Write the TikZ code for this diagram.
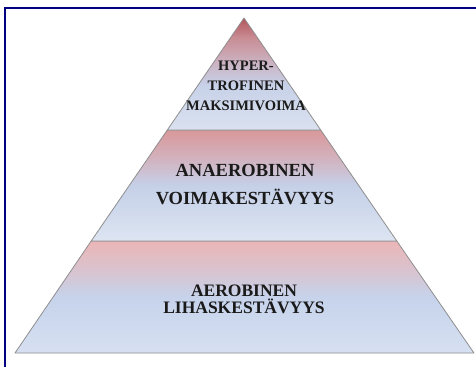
\documentclass[tikz,border=0pt]{standalone}
\usepackage{fontspec}
\setmainfont{Liberation Serif}
\usetikzlibrary{positioning}

\definecolor{kehys}{HTML}{000080}
\definecolor{reuna}{HTML}{8E8E8E}
\definecolor{teksti}{HTML}{1A1A1A}

\pgfdeclareverticalshading{huippu}{100bp}{%
  color(0bp)=(rgb,255:red,218;green,226;blue,240); color(25bp)=(rgb,255:red,218;green,226;blue,240);
  color(45bp)=(rgb,255:red,199;green,209;blue,232); color(55bp)=(rgb,255:red,203;green,179;blue,195);
  color(66bp)=(rgb,255:red,201;green,142;blue,149); color(75bp)=(rgb,255:red,179;green,85;blue,92);
  color(100bp)=(rgb,255:red,179;green,85;blue,92)}
\pgfdeclareverticalshading{keski}{100bp}{%
  color(0bp)=(rgb,255:red,221;green,229;blue,242); color(25bp)=(rgb,255:red,221;green,229;blue,242);
  color(50bp)=(rgb,255:red,197;green,208;blue,232); color(62bp)=(rgb,255:red,210;green,179;blue,191);
  color(75bp)=(rgb,255:red,217;green,152;blue,154); color(100bp)=(rgb,255:red,217;green,152;blue,154)}
\pgfdeclareverticalshading{pohja}{100bp}{%
  color(0bp)=(rgb,255:red,214;green,224;blue,241); color(25bp)=(rgb,255:red,214;green,224;blue,241);
  color(50bp)=(rgb,255:red,198;green,211;blue,235); color(62bp)=(rgb,255:red,217;green,195;blue,207);
  color(75bp)=(rgb,255:red,235;green,182;blue,182); color(100bp)=(rgb,255:red,235;green,182;blue,182)}

\tikzset{
  kerros/.style={draw=reuna, line width=0.8pt, line join=round},
  nimi/.style={align=center, text=teksti, font=\bfseries, inner sep=0pt}
}

\begin{document}
\begin{tikzpicture}[x=1pt, y=-1pt]
  \useasboundingbox (0,0) rectangle (476,367);
  % kehys
  \draw[kehys, line width=2pt] (476,7.7) -- (5,7.7) -- (5,367);

  % pyramidin kulmat
  \coordinate (karki) at (244,18);
  \coordinate (y1) at (167.3,130);
  \coordinate (y2) at (320.7,130);
  \coordinate (k1) at (91.2,241);
  \coordinate (k2) at (396.8,241);
  \coordinate (a1) at (15,353);
  \coordinate (a2) at (474,353);

  \shade[kerros, shading=pohja] (k1) -- (k2) -- (a2) -- (a1) -- cycle;
  \shade[kerros, shading=keski] (y1) -- (y2) -- (k2) -- (k1) -- cycle;
  \shade[kerros, shading=huippu] (karki) -- (y2) -- (y1) -- cycle;

  \node[nimi, font=\bfseries\fontsize{14.5}{20}\selectfont] (hyper) at (246,86)
    {HYPER-\\TROFINEN\\MAKSIMIVOIMA};
  \node[nimi, font=\bfseries\fontsize{18.5}{28}\selectfont] (anaer) at (245,185)
    {ANAEROBINEN\\VOIMAKESTÄVYYS};
  \node[nimi, font=\bfseries\fontsize{17.5}{17}\selectfont] (aerob) at (244,299)
    {AEROBINEN\\LIHASKESTÄVYYS};
\end{tikzpicture}
\end{document}
